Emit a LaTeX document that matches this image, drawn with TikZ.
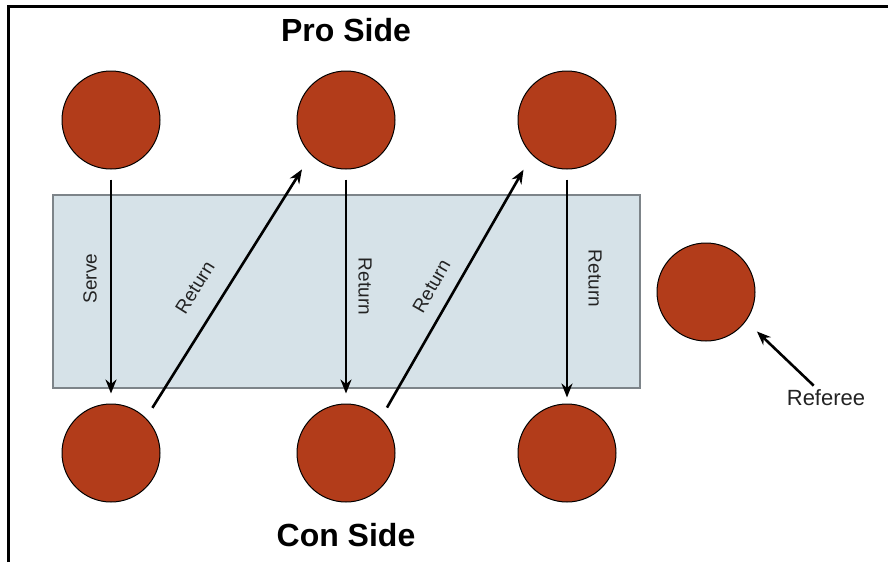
\documentclass[tikz,border=0pt]{standalone}
\usepackage{fontspec}
\setmainfont{Liberation Sans}
\usepackage{xcolor}
\definecolor{rustred}{RGB}{178,60,26}
\definecolor{tableblue}{RGB}{214,226,232}
\definecolor{tablegray}{RGB}{125,132,137}
\definecolor{labelgray}{RGB}{35,35,35}
\usepackage{tikz}
\usetikzlibrary{arrows.meta}
\usetikzlibrary{positioning}
\newcommand{\playersize}{98pt}
\newcommand{\gapshort}{12pt}
\newcommand{\gaplong}{17pt}
\tikzset{
    player/.style={draw, circle, fill=rustred, line width=1pt, minimum size=\playersize, inner sep=0pt},
    table/.style={draw=tablegray, fill=tableblue, line width=2.5pt, rectangle, inner sep=0pt},
    side-title/.style={font=\fontsize{32}{36}\selectfont\bfseries, inner sep=0pt},
    move-label/.style={font=\fontsize{19}{22}\selectfont, text=labelgray, inner sep=0pt},
    move/.style={-{Stealth[length=14pt, width=11pt]}, line width=2.6pt},
    frame/.style={line width=3pt}
}

\begin{document}
\begin{tikzpicture}[x=1pt, y=-1pt]
              \useasboundingbox (0,0) rectangle (888,562);
              \draw[frame] (8,562) -- (8,6) -- (888,6);

              % the table between the two sides
              \node[table, minimum width=587pt, minimum height=193pt] (table) at (346.5,291.5) {};

              \path
                  (111,120) node[player] (p1) {}
                  ++(235,0) node[player] (p2) {}
                  ++(221,0) node[player] (p3) {};
              \path
                  (111,453) node[player] (c1) {}
                  ++(235,0) node[player] (c2) {}
                  ++(221,0) node[player] (c3) {};
              \node[player] (referee) at (706,292) {};

              \node[side-title, above=28pt of p2] (pro) {Pro Side};
              \node[side-title, below=21pt of c2] (con) {Con Side};
              \node[move-label, font=\fontsize{22}{26}\selectfont] (ref-label) at (826,398) {Referee};

              % serve and returns
              \draw[move, shorten <=10pt, shorten >=10pt] (p1) -- node[move-label, midway, xshift=-21pt, yshift=8pt, rotate=90] {Serve} (c1);
              \draw[move, shorten <=\gapshort, shorten >=\gaplong] (c1.north east) -- node[move-label, pos=0.44, sloped, above=20pt] {Return} (p2.south west);
              \draw[move, shorten <=10pt, shorten >=10pt] (p2) -- node[move-label, midway, xshift=19pt, rotate=-90] {Return} (c2);
              \draw[move, shorten <=\gapshort, shorten >=\gaplong] (c2.north east) -- node[move-label, pos=0.46, sloped, above=14pt] {Return} (p3.south west);
              \draw[move, shorten <=10pt, shorten >=6pt] (p3) -- node[move-label, midway, xshift=28pt, yshift=8pt, rotate=-90] {Return} (c3);

              \draw[move, shorten <=6pt, shorten >=15pt] ([xshift=-8pt]ref-label.north) -- (referee.-36);
\end{tikzpicture}
\end{document}
